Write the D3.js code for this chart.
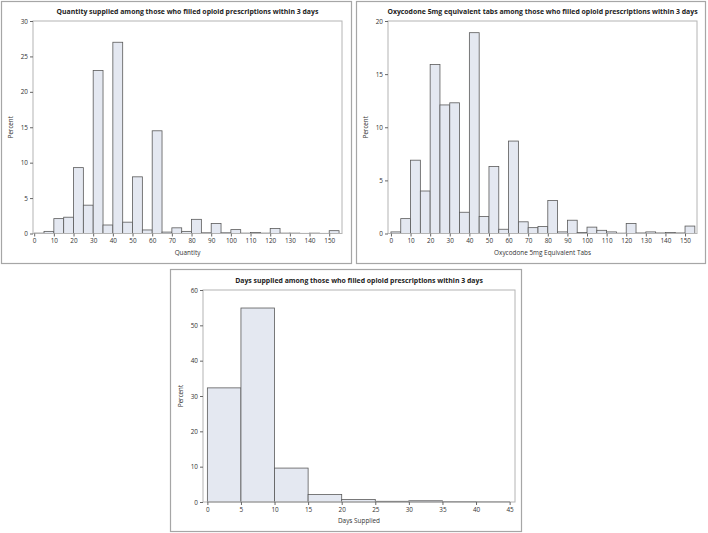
<!DOCTYPE html>
<html><head><meta charset="utf-8">
<script src="https://cdn.jsdelivr.net/npm/d3@7"></script>
<style>
body{margin:0;background:#fff;}
svg{display:block;font-family:"Open Sans","Noto Sans",sans-serif;}
</style></head>
<body><svg id="c" width="708" height="533"></svg>
<script>
// ---- data ----
const quantityBinStarts = [0,5,10,15,20,25,30,35,40,45,50,55,60,65,70,75,80,85,90,95,100,105,110,115,120,125,130,135,140,145,150];
const quantityPercent = [0.05,0.3,2.1,2.3,9.3,4.0,23.0,1.2,27.0,1.6,8.0,0.5,14.5,0.2,0.8,0.3,2.0,0.1,1.4,0.1,0.55,0.05,0.15,0.05,0.7,0.05,0.05,0.02,0.05,0.02,0.4];
const oxyBinStarts = [0,5,10,15,20,25,30,35,40,45,50,55,60,65,70,75,80,85,90,95,100,105,110,115,120,125,130,135,140,145,150];
const oxyPercent = [0.15,1.4,6.9,4.0,15.9,12.1,12.3,2.0,18.9,1.6,6.3,0.4,8.7,1.1,0.55,0.65,3.1,0.15,1.25,0.1,0.6,0.3,0.15,0.03,0.95,0.05,0.15,0.05,0.1,0.05,0.7];
const daysBinStarts = [0,5,10,15,20,25,30,35,40];
const daysPercent = [32.3,54.9,9.6,2.1,0.7,0.2,0.35,0.1,0.05];
const qtyTicks = [0,10,20,30,40,50,60,70,80,90,100,110,120,130,140,150];
const qtyYTicks = [0,5,10,15,20,25,30];
const oxyYTicks = [0,5,10,15,20];
const daysTicks = [0,5,10,15,20,25,30,35,40,45];
const daysYTicks = [0,10,20,30,40,50,60];
const titles = [
  "Quantity supplied among those who filled opioid prescriptions within 3 days",
  "Oxycodone 5mg equivalent tabs among those who filled opioid prescriptions within 3 days",
  "Days supplied among those who filled opioid prescriptions within 3 days"
];
const xLabels = ["Quantity","Oxycodone 5mg Equivalent Tabs","Days Supplied"];
const yLabel = "Percent";

const svg = d3.select("#c");

function panel(cfg){
  const g = svg.append("g");
  g.append("rect").attr("x",cfg.box[0]+0.5).attr("y",cfg.box[1]+0.5)
    .attr("width",cfg.box[2]-cfg.box[0]).attr("height",cfg.box[3]-cfg.box[1])
    .attr("fill","none").attr("stroke","#a6a6a6").attr("stroke-width",1.2);
  const x = d3.scaleLinear().domain(cfg.xdom).range([cfg.plot[0],cfg.plot[2]]);
  const y = d3.scaleLinear().domain(cfg.ydom).range([cfg.plot[3],cfg.plot[1]]);
  g.selectAll("rect.bar").data(cfg.values).join("rect").attr("class","bar")
    .attr("x",(d,i)=>x(cfg.starts[i]))
    .attr("width",(d,i)=>x(cfg.starts[i]+cfg.bw)-x(cfg.starts[i]))
    .attr("y",d=>y(d)).attr("height",d=>y(0)-y(d))
    .attr("fill","#e4e8f1").attr("stroke","#5a5a5a").attr("stroke-width",0.8);
  g.append("rect").attr("x",cfg.plot[0]).attr("y",cfg.plot[1])
    .attr("width",cfg.plot[2]-cfg.plot[0]).attr("height",cfg.plot[3]-cfg.plot[1])
    .attr("fill","none").attr("stroke","#b4b4b4").attr("stroke-width",1);
  const xa = g.append("g").attr("transform",`translate(0,${cfg.plot[3]})`)
    .call(d3.axisBottom(x).tickValues(cfg.xticks).tickSize(3).tickPadding(2));
  const ya = g.append("g").attr("transform",`translate(${cfg.plot[0]},0)`)
    .call(d3.axisLeft(y).tickValues(cfg.yticks).tickSize(3).tickPadding(2));
  [xa,ya].forEach(a=>{
    a.select(".domain").remove();
    a.selectAll(".tick line").attr("stroke","#666");
    a.selectAll(".tick text").attr("fill","#333").style("font-size","6.4px")
      .style("font-family","'Open Sans','Noto Sans',sans-serif");
  });
  g.append("text").attr("x",(cfg.plot[0]+cfg.plot[2])/2).attr("y",cfg.plot[1]-7.5)
    .attr("text-anchor","middle").style("font-size","6.9px").style("font-weight","bold")
    .attr("fill","#222").text(cfg.title);
  g.append("text").attr("x",(cfg.plot[0]+cfg.plot[2])/2).attr("y",cfg.plot[3]+21)
    .attr("text-anchor","middle").style("font-size","6.4px").attr("fill","#333").text(cfg.xlabel);
  g.append("text").attr("transform",`translate(${cfg.plot[0]-20},${(cfg.plot[1]+cfg.plot[3])/2}) rotate(-90)`)
    .attr("text-anchor","middle").style("font-size","6.2px").attr("fill","#333").text(yLabel);
}

panel({box:[1,1,351,263], plot:[33,21,342,233.5], xdom:[-0.6,156.5], ydom:[0,30],
  starts:quantityBinStarts, values:quantityPercent, bw:5, xticks:qtyTicks, yticks:qtyYTicks,
  title:titles[0], xlabel:xLabels[0]});
panel({box:[356,1,705,263], plot:[388,21,697,233.5], xdom:[-1.5,156.1], ydom:[0,20],
  starts:oxyBinStarts, values:oxyPercent, bw:5, xticks:qtyTicks, yticks:oxyYTicks,
  title:titles[1], xlabel:xLabels[1]});
panel({box:[170,269,521,531], plot:[203,290,515,502], xdom:[-0.65,45.8], ydom:[0,60],
  starts:daysBinStarts, values:daysPercent, bw:5, xticks:daysTicks, yticks:daysYTicks,
  title:titles[2], xlabel:xLabels[2]});
</script></body></html>
